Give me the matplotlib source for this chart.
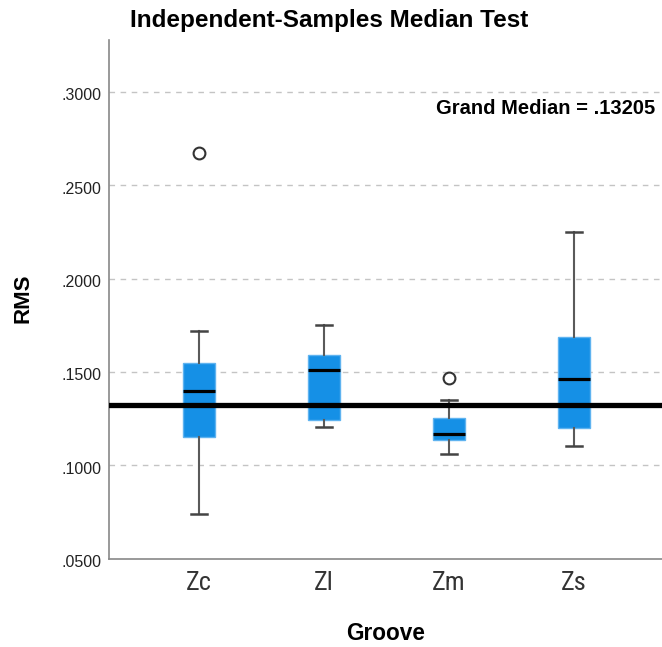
import matplotlib
matplotlib.use("Agg")
import matplotlib.pyplot as plt
from matplotlib import font_manager
from matplotlib.transforms import ScaledTranslation

# ---- data ----
groups = ["Zc", "Zl", "Zm", "Zs"]
whislo = [0.0741, 0.1205, 0.1061, 0.1105]
q1 = [0.1152, 0.1245, 0.1138, 0.1198]
med = [0.1398, 0.1513, 0.1170, 0.1464]
q3 = [0.1550, 0.1589, 0.1252, 0.1688]
whishi = [0.1722, 0.1749, 0.1348, 0.2250]
outliers = [[0.2672], [], [0.1470], []]
grand_median = 0.13205
yticks = [0.05, 0.10, 0.15, 0.20, 0.25, 0.30]
ytick_labels = [".0500", ".1000", ".1500", ".2000", ".2500", ".3000"]

REG = "Liberation Sans"


def find_narrow():
    cands = []
    for f in font_manager.fontManager.ttflist:
        nm = f.name.lower()
        st = str(f.stretch).lower()
        narrow = ("narrow" in nm or "condensed" in nm or "condensed" in st
                  or (isinstance(f.stretch, int) and f.stretch < 500))
        if not narrow:
            continue
        w = f.weight if isinstance(f.weight, int) else (700 if "bold" in str(f.weight) else 400)
        if w >= 600 or w < 350:
            continue
        if "italic" in str(f.style) or "oblique" in str(f.style):
            continue
        cands.append(f)
    if not cands:
        return None
    pref = ["liberation sans narrow", "arial narrow", "roboto condensed", "dejavu sans"]
    cands.sort(key=lambda f: next((i for i, p in enumerate(pref) if p in f.name.lower()), 99))
    return cands[0].fname


nr = find_narrow()
cat_fp = font_manager.FontProperties(fname=nr) if nr else font_manager.FontProperties(family=REG)

W, H = 662, 647
fig = plt.figure(figsize=(W / 100, H / 100), dpi=100)
ax = fig.add_axes([108.7 / W, 1 - 558.7 / H, 1 - 108.7 / W, (558.7 - 40) / H])

stats = []
for i, g in enumerate(groups):
    stats.append(dict(label=g, whislo=whislo[i], q1=q1[i], med=med[i],
                      q3=q3[i], whishi=whishi[i], fliers=outliers[i]))

positions = list(range(len(groups)))
ax.bxp(stats, positions=positions, widths=0.25, patch_artist=True,
       showfliers=True,
       boxprops=dict(facecolor="#1590e6", edgecolor="#5fb3f0", linewidth=1.0),
       medianprops=dict(color="black", linewidth=2.3, solid_capstyle="butt"),
       whiskerprops=dict(color="#5a5a5a", linewidth=1.5),
       capprops=dict(color="#444444", linewidth=1.8),
       capwidths=0.13,
       flierprops=dict(marker="o", markerfacecolor="none",
                       markeredgecolor="#333333", markersize=8.5,
                       markeredgewidth=1.5),
       zorder=3)

ax.axhline(grand_median, color="black", linewidth=3.8, zorder=4)

ax.set_xlim(-0.7224, 3.704)
ax.set_ylim(0.05, 0.3278)

ax.set_yticks(yticks)
ax.set_yticklabels(ytick_labels, family=REG, fontsize=11.5, color="#222222")
ax.set_xticks(positions)
ax.set_xticklabels(groups, color="#333333")
cat_fp.set_size(19)
for t in ax.get_xticklabels():
    t.set_fontproperties(cat_fp)
ax.tick_params(axis="both", length=0)
ax.tick_params(axis="y", pad=5)
ax.tick_params(axis="x", pad=9)
off = ScaledTranslation(0, -2.5 / 100, fig.dpi_scale_trans)
for t in ax.get_yticklabels():
    t.set_transform(t.get_transform() + off)

for y in yticks[1:]:
    ax.axhline(y, color="#c4c4c4", linewidth=1.0, linestyle=(0, (4, 4)), zorder=1)

for s in ["top", "right"]:
    ax.spines[s].set_visible(False)
for s in ["left", "bottom"]:
    ax.spines[s].set_color("#888888")
    ax.spines[s].set_linewidth(1.2)

fig.text(130 / W, 1 - 21 / H, "Independent-Samples Median Test", family=REG,
         fontweight="bold", fontsize=17.5, ha="left", va="center")
fig.text(23 / W, 1 - 298 / H, "RMS", family=REG, fontweight="bold",
         fontsize=16, rotation=90, ha="center", va="center")
fig.text(386 / W, 1 - 633 / H, "Groove", family=REG, fontweight="bold",
         fontsize=16.3, ha="center", va="center")
fig.text(655 / W, 1 - 109 / H, "Grand Median = .13205", family=REG,
         fontweight="bold", fontsize=14.5, ha="right", va="center")

fig.savefig("out.png", dpi=100)
